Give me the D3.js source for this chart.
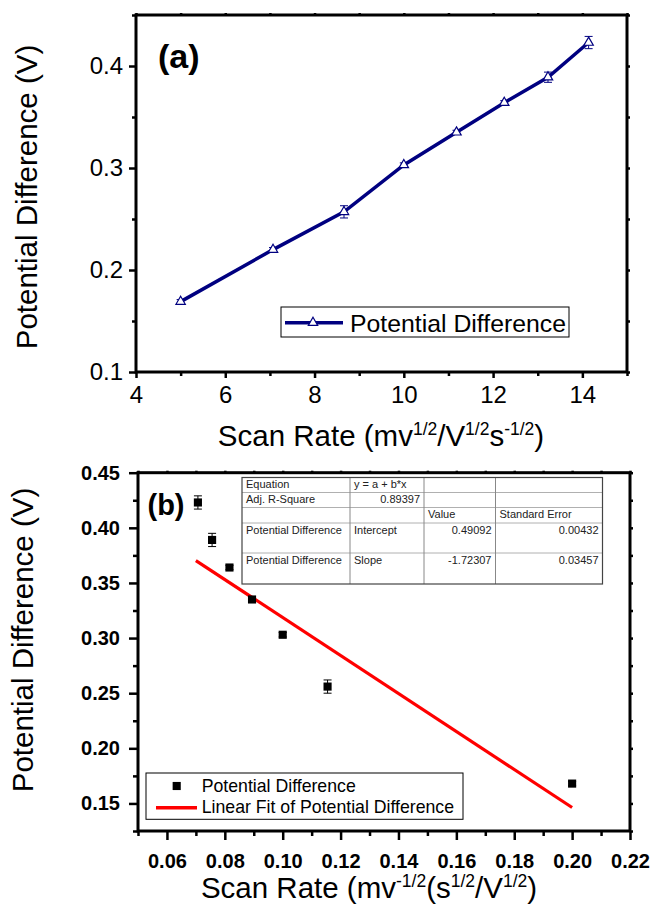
<!DOCTYPE html>
<html><head><meta charset="utf-8">
<script src="https://cdn.jsdelivr.net/npm/d3@7"></script>
<style>body{margin:0;background:#fff} svg{display:block;font-family:"Liberation Sans",Arial,sans-serif}</style>
</head><body><svg id="c" width="651" height="909"></svg>
<script>
// ---------- data ----------
const scanRateA = [5.0, 7.07, 8.66, 10.0, 11.18, 12.25, 13.23, 14.14];
const potentialA = [0.169, 0.220, 0.257, 0.303, 0.335, 0.364, 0.389, 0.423];
const errorA = [0.002, 0.002, 0.006, 0.002, 0.002, 0.002, 0.005, 0.006];
const scanRateB = [0.0707, 0.0756, 0.0816, 0.0894, 0.1000, 0.1155, 0.2000];
const potentialB = [0.423, 0.389, 0.364, 0.335, 0.303, 0.256, 0.168];
const errorB = [0.006, 0.006, 0.002, 0.002, 0.002, 0.006, 0.002];
const fitIntercept = 0.49092;
const fitSlope = -1.72307;
const fitRange = [0.07, 0.20];
const xTicksA = [4, 6, 8, 10, 12, 14];
const xMinorA = [5, 7, 9, 11, 13, 15];
const yTicksA = [0.1, 0.2, 0.3, 0.4];
const yMinorA = [0.15, 0.25, 0.35, 0.45];
const xTicksB = [0.06, 0.08, 0.10, 0.12, 0.14, 0.16, 0.18, 0.20, 0.22];
const xMinorB = [0.05, 0.07, 0.09, 0.11, 0.13, 0.15, 0.17, 0.19, 0.21];
const yTicksB = [0.15, 0.20, 0.25, 0.30, 0.35, 0.40, 0.45];
const yMinorB = [0.125, 0.175, 0.225, 0.275, 0.325, 0.375, 0.425];
const seriesName = "Potential Difference";
const fitName = "Linear Fit of Potential Difference";
const yTitle = "Potential Difference (V)";
const xTitleA = [["Scan Rate (mv", 0], ["1/2", 1], ["/V", 0], ["1/2", 1], ["s", 0], ["-1/2", 1], [")", 0]];
const xTitleB = [["Scan Rate (mv", 0], ["-1/2", 1], ["(s", 0], ["1/2", 1], ["/V", 0], ["1/2", 1], [")", 0]];
const tableRows = [
  ["Equation", "y = a + b*x", "", ""],
  ["Adj. R-Square", "0.89397", "", ""],
  ["", "", "Value", "Standard Error"],
  ["Potential Difference", "Intercept", "0.49092", "0.00432"],
  ["Potential Difference", "Slope", "-1.72307", "0.03457"]
];

const svg = d3.select("#c");
const NAVY = "#000080";

function title(g, parts, size, supSize, shift) {
  const t = g.append("text").attr("font-size", size).attr("fill", "#000");
  let up = false;
  parts.forEach(([s, sup]) => {
    const ts = t.append("tspan").text(s);
    if (sup && !up) { ts.attr("dy", -shift).attr("font-size", supSize); up = true; }
    else if (sup) { ts.attr("font-size", supSize); }
    else if (!sup && up) { ts.attr("dy", shift); up = false; }
  });
  return t;
}

function axes(g, x, y, o) {
  const [x0, x1] = x.range(), [y0, y1] = y.range();
  // left major
  const la = g.append("g").attr("transform", `translate(${x0},0)`)
    .call(d3.axisLeft(y).tickValues(o.yT).tickSize(o.maj).tickPadding(o.padY).tickFormat(o.yF));
  la.selectAll("text").attr("font-size", o.fs).attr("font-weight", o.fw).attr("fill", "#000").attr("font-family", null);
  g.append("g").attr("transform", `translate(${x0},0)`)
    .call(d3.axisLeft(y).tickValues(o.yM).tickSize(o.min).tickFormat(""));
  // bottom
  const ba = g.append("g").attr("transform", `translate(0,${y0})`)
    .call(d3.axisBottom(x).tickValues(o.xT).tickSize(o.majX).tickFormat(o.xF));
  ba.selectAll("text").attr("font-size", o.fs).attr("font-weight", o.fw).attr("fill", "#000")
    .attr("font-family", null).attr("dy", null).attr("y", o.xLabY);
  g.append("g").attr("transform", `translate(0,${y0})`)
    .call(d3.axisBottom(x).tickValues(o.xM).tickSize(o.minX).tickFormat(""));
  // right ticks
  g.append("g").attr("transform", `translate(${x1},0)`)
    .call(d3.axisRight(y).tickValues(o.yT.concat(o.yM)).tickSize(3).tickFormat(""));
  // top ticks
  g.append("g").attr("transform", `translate(0,${y1})`)
    .call(d3.axisTop(x).tickValues(o.xT.concat(o.xM)).tickSize(2).tickFormat(""));
  g.selectAll(".domain").remove();
  g.selectAll(".tick line").attr("stroke", "#000").attr("stroke-width", 2.5);
  g.append("rect").attr("x", x0).attr("y", y1).attr("width", x1 - x0).attr("height", y0 - y1)
    .attr("fill", "none").attr("stroke", "#000").attr("stroke-width", 3);
}

// ================= Panel (a) =================
const xa = d3.scaleLinear([4, 15], [136, 627]);
const ya = d3.scaleLinear([0.1, 0.45], [372, 15]);
const ga = svg.append("g");
axes(ga, xa, ya, {yT: yTicksA, yM: yMinorA, xT: xTicksA, xM: xMinorA, maj: 7, min: 4, majX: 6, minX: 4,
  padY: 6, fs: 24, fw: "normal", yF: d3.format(".1f"), xF: d3.format("d"), xLabY: 31});

const ptsA = scanRateA.map((v, i) => ({x: v, y: potentialA[i], e: errorA[i]}));
ga.append("path").datum(ptsA).attr("fill", "none").attr("stroke", NAVY).attr("stroke-width", 3.5)
  .attr("d", d3.line().x(d => xa(d.x)).y(d => ya(d.y)));
const ebA = ga.append("g").attr("stroke", NAVY).attr("stroke-width", 1);
ptsA.forEach(d => {
  const cx = xa(d.x), t = ya(d.y + d.e), b = ya(d.y - d.e);
  ebA.append("line").attr("x1", cx).attr("x2", cx).attr("y1", t).attr("y2", b);
  ebA.append("line").attr("x1", cx - 4).attr("x2", cx + 4).attr("y1", t).attr("y2", t);
  ebA.append("line").attr("x1", cx - 4).attr("x2", cx + 4).attr("y1", b).attr("y2", b);
});
const tri = d3.symbol(d3.symbolTriangle, 38);
ga.selectAll(".tri").data(ptsA).join("path")
  .attr("transform", d => `translate(${xa(d.x)},${ya(d.y)})`).attr("d", tri)
  .attr("fill", "#fff").attr("stroke", NAVY).attr("stroke-width", 1.2);

ga.append("text").attr("x", 158).attr("y", 68).attr("font-size", 34).attr("font-weight", "bold").text("(a)");

// legend (a)
ga.append("rect").attr("x", 281).attr("y", 307).attr("width", 288).attr("height", 30)
  .attr("fill", "#fff").attr("stroke", "#000").attr("stroke-width", 1);
ga.append("line").attr("x1", 285).attr("x2", 343).attr("y1", 322.7).attr("y2", 322.7)
  .attr("stroke", NAVY).attr("stroke-width", 3.5);
ga.append("path").attr("transform", "translate(313,322.7)").attr("d", tri)
  .attr("fill", "#fff").attr("stroke", NAVY).attr("stroke-width", 1.2);
ga.append("text").attr("x", 350).attr("y", 331.5).attr("font-size", 24.8).text(seriesName);

ga.append("text").attr("transform", "translate(37,197) rotate(-90)").attr("text-anchor", "middle")
  .attr("font-size", 29.5).text(yTitle);
title(ga, xTitleA, 29.5, 17.5, 11).attr("x", 381).attr("y", 446).attr("text-anchor", "middle");

// ================= Panel (b) =================
const xb = d3.scaleLinear([0.05, 0.22], [138, 630]);
const yb = d3.scaleLinear([0.125, 0.45], [831, 472.7]);
const gb = svg.append("g");
axes(gb, xb, yb, {yT: yTicksB, yM: yMinorB, xT: xTicksB, xM: xMinorB, maj: 9, min: 5, majX: 9, minX: 5,
  padY: 9, fs: 20, fw: "bold", yF: d3.format(".2f"), xF: d3.format(".2f"), xLabY: 37});

// table
const colX = [242, 350, 424, 495.5, 602.5];
const rowY = [477.5, 492.5, 507.5, 523, 553, 584];
const tb = gb.append("g");
tb.append("rect").attr("x", colX[0]).attr("y", rowY[0]).attr("width", colX[4] - colX[0])
  .attr("height", rowY[5] - rowY[0]).attr("fill", "#fff");
rowY.slice(1, -1).forEach(yv => tb.append("line").attr("x1", colX[0]).attr("x2", colX[4])
  .attr("y1", yv).attr("y2", yv).attr("stroke", "#b0b0b0").attr("stroke-width", 1));
colX.slice(1, -1).forEach(xv => tb.append("line").attr("x1", xv).attr("x2", xv)
  .attr("y1", rowY[0]).attr("y2", rowY[5]).attr("stroke", "#888").attr("stroke-width", 1));
tb.append("rect").attr("x", colX[0]).attr("y", rowY[0]).attr("width", colX[4] - colX[0])
  .attr("height", rowY[5] - rowY[0]).attr("fill", "none").attr("stroke", "#444").attr("stroke-width", 1.2);
tableRows.forEach((row, r) => row.forEach((s, c) => {
  if (!s) return;
  const num = /^-?[0-9.]+$/.test(s);
  tb.append("text").attr("x", num ? colX[c + 1] - 4 : colX[c] + 4).attr("y", rowY[r] + 10.5)
    .attr("text-anchor", num ? "end" : "start").attr("font-size", 11).attr("fill", "#222").text(s);
}));

// fit line
gb.append("line").attr("x1", xb(fitRange[0])).attr("y1", yb(fitIntercept + fitSlope * fitRange[0]))
  .attr("x2", xb(fitRange[1])).attr("y2", yb(fitIntercept + fitSlope * fitRange[1]))
  .attr("stroke", "#ff0000").attr("stroke-width", 3.2);

const ptsB = scanRateB.map((v, i) => ({x: v, y: potentialB[i], e: errorB[i]}));
const ebB = gb.append("g").attr("stroke", "#000").attr("stroke-width", 1);
ptsB.forEach(d => {
  const cx = xb(d.x), t = yb(d.y + d.e), b = yb(d.y - d.e);
  ebB.append("line").attr("x1", cx).attr("x2", cx).attr("y1", t).attr("y2", b);
  ebB.append("line").attr("x1", cx - 4).attr("x2", cx + 4).attr("y1", t).attr("y2", t);
  ebB.append("line").attr("x1", cx - 4).attr("x2", cx + 4).attr("y1", b).attr("y2", b);
});
const sq = d3.symbol(d3.symbolSquare, 66);
gb.selectAll(".sq").data(ptsB).join("path")
  .attr("transform", d => `translate(${xb(d.x)},${yb(d.y)})`).attr("d", sq).attr("fill", "#000");

gb.append("text").attr("x", 147.5).attr("y", 515).attr("font-size", 29).attr("font-weight", "bold").text("(b)");

// legend (b)
gb.append("rect").attr("x", 146).attr("y", 773).attr("width", 317).attr("height", 46.3)
  .attr("fill", "#fff").attr("stroke", "#000").attr("stroke-width", 1);
gb.append("path").attr("transform", "translate(176.7,786)").attr("d", sq).attr("fill", "#000");
gb.append("line").attr("x1", 156).attr("x2", 197).attr("y1", 807.7).attr("y2", 807.7)
  .attr("stroke", "#ff0000").attr("stroke-width", 3.5);
gb.append("text").attr("x", 201.7).attr("y", 791.7).attr("font-size", 17.7).text(seriesName);
gb.append("text").attr("x", 201.7).attr("y", 813.3).attr("font-size", 17.7).text(fitName);

gb.append("text").attr("transform", "translate(33,640) rotate(-90)").attr("text-anchor", "middle")
  .attr("font-size", 29.5).text(yTitle);
title(gb, xTitleB, 29.5, 17.5, 11).attr("x", 369).attr("y", 898).attr("text-anchor", "middle");
</script></body></html>
